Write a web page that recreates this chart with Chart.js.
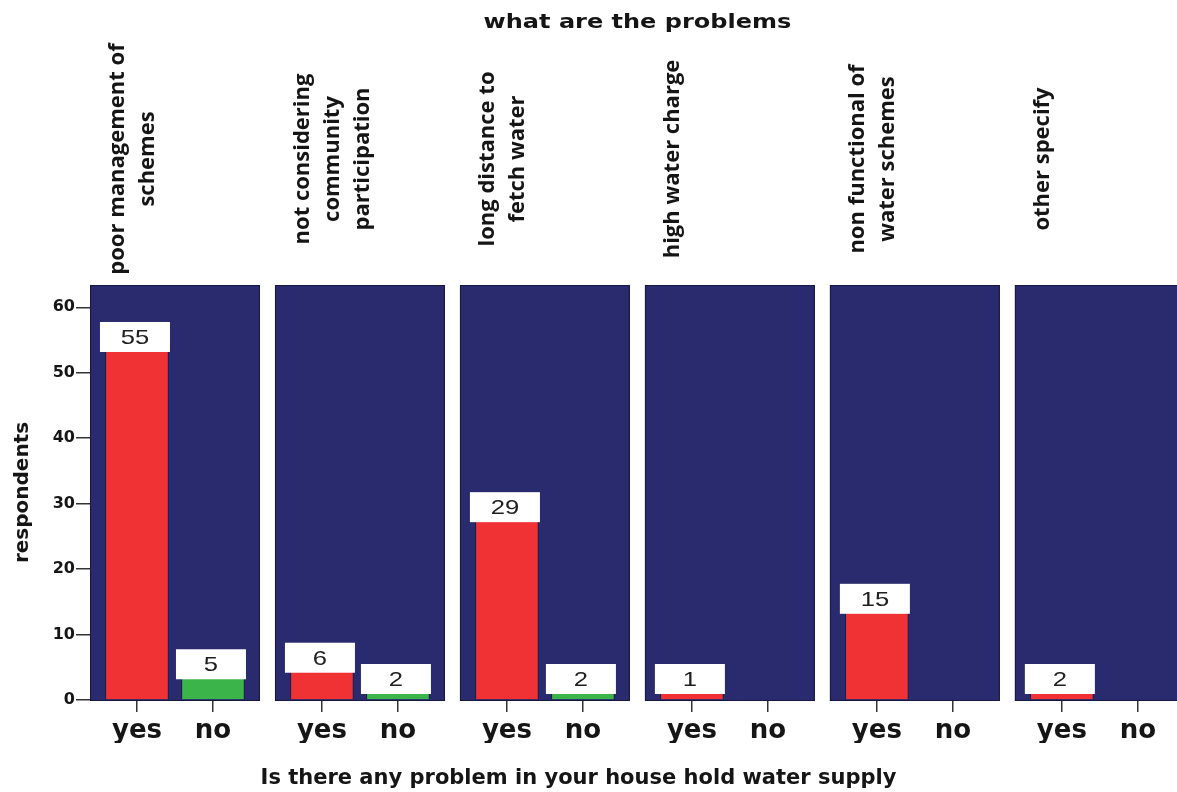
<!DOCTYPE html>
<html><head><meta charset="utf-8">
<script src="https://cdn.jsdelivr.net/npm/chart.js@4/dist/chart.umd.min.js"></script>
<style>html,body{margin:0;padding:0;background:#fff;}canvas{display:block;}</style>
</head><body>
<canvas id="c" width="1177" height="792"></canvas>
<script>
// ---- data ----
const chartTitle = 'what are the problems';
const xTitle = 'Is there any problem in your house hold water supply';
const yTitle = 'respondents';
const problems = [
  ['poor management of', 'schemes'],
  ['not considering', 'community', 'participation'],
  ['long distance to', 'fetch water'],
  ['high water charge'],
  ['non functional of', 'water schemes'],
  ['other specify']
];
const answers = ['yes', 'no'];
const yesCounts = [55, 6, 29, 1, 15, 2];
const noCounts = [5, 2, 2, null, null, null];
const yTicks = [0, 10, 20, 30, 40, 50, 60];

// ---- layout / style ----
const PANEL_STEP = 2.434;   // x units from one panel to the next
const PANEL_PAD = 0.618;    // panel extent beyond yes / no positions
const NAVY = '#2a2a6e';
const RED = '#f03235';
const GREEN = '#3bb44a';
const INK = '#151515';

const yesData = yesCounts.map((v, p) => ({x: p * PANEL_STEP, y: v}));
const noData = noCounts.map((v, p) => ({x: p * PANEL_STEP + 1, y: v}));
const tickPositions = [];
problems.forEach((_, p) => answers.forEach((a, i) => tickPositions.push(p * PANEL_STEP + i)));

const panelPlugin = {
  id: 'panels',
  beforeDatasetsDraw(chart) {
    const {ctx, chartArea, scales: {x, y}} = chart;
    ctx.save();
    ctx.beginPath();
    ctx.rect(chartArea.left, 0, chartArea.right - chartArea.left, chart.height);
    ctx.clip();
    const bottom = y.getPixelForValue(0) + 1;
    problems.forEach((_, p) => {
      const l = x.getPixelForValue(p * PANEL_STEP - PANEL_PAD);
      const r = x.getPixelForValue(p * PANEL_STEP + 1 + PANEL_PAD);
      ctx.fillStyle = NAVY;
      ctx.fillRect(l, chartArea.top, r - l, bottom - chartArea.top);
      ctx.strokeStyle = '#17173d';
      ctx.lineWidth = 1;
      ctx.strokeRect(l + 0.5, chartArea.top + 0.5, r - l - 1, bottom - chartArea.top - 1);
    });
    ctx.restore();
  },
  afterDatasetsDraw(chart) {
    const {ctx, scales: {y}} = chart;
    const axis = y.getPixelForValue(0);
    ctx.save();
    chart.data.datasets.forEach((ds, di) => {
      const meta = chart.getDatasetMeta(di);
      meta.data.forEach((el, i) => {
        const v = ds.data[i].y;
        if (v === null || v === undefined) return;
        const vp = y.getPixelForValue(v);
        const h = 30, w = el.width + 7;
        const bottom = Math.min(vp + 12, axis - 6);
        const top = bottom - h;
        const left = el.x - w / 2 - 2;
        ctx.fillStyle = '#ffffff';
        ctx.fillRect(left, top, w, h);
        ctx.save();
        ctx.translate(left + w / 2, top + h / 2 + 1);
        ctx.scale(1.22, 1);
        ctx.fillStyle = '#202020';
        ctx.font = '21px "Liberation Sans", Arial, sans-serif';
        ctx.textAlign = 'center';
        ctx.textBaseline = 'middle';
        ctx.fillText(String(v), 0, 0);
        ctx.restore();
      });
    });
    ctx.restore();
  },
  afterDraw(chart) {
    const {ctx, scales: {x}} = chart;
    ctx.save();
    ctx.fillStyle = INK;
    // panel headers (rotated)
    ctx.font = 'bold 22px "Open Sans", Lato, sans-serif';
    ctx.textAlign = 'center';
    ctx.textBaseline = 'middle';
    problems.forEach((lines, p) => {
      const l = x.getPixelForValue(p * PANEL_STEP - PANEL_PAD);
      lines.forEach((line, j) => {
        ctx.save();
        ctx.translate(l + 28 + j * 30, 159);
        ctx.rotate(-Math.PI / 2);
        ctx.fillText(line, 0, 0);
        ctx.restore();
      });
    });
    // top title
    const firstL = x.getPixelForValue(-PANEL_PAD);
    const lastR = x.getPixelForValue((problems.length - 1) * PANEL_STEP + 1 + PANEL_PAD);
    ctx.save();
    ctx.translate((firstL + lastR) / 2, 28);
    ctx.scale(1.2, 1);
    ctx.font = 'bold 20px "DejaVu Sans", sans-serif';
    ctx.textBaseline = 'alphabetic';
    ctx.fillText(chartTitle, 0, 0);
    ctx.restore();
    // bottom title
    ctx.font = 'bold 21px "DejaVu Sans", sans-serif';
    ctx.textBaseline = 'alphabetic';
    ctx.fillText(xTitle, chart.width / 2 - 10, 784);
    ctx.restore();
  }
};

new Chart(document.getElementById('c'), {
  type: 'bar',
  data: {
    datasets: [
      {label: answers[0], data: yesData, backgroundColor: RED, borderColor: 'rgba(25,25,60,0.85)', borderWidth: 1, barThickness: 63, grouped: false},
      {label: answers[1], data: noData, backgroundColor: GREEN, borderColor: 'rgba(25,25,60,0.85)', borderWidth: 1, barThickness: 63, grouped: false}
    ]
  },
  options: {
    responsive: false,
    animation: false,
    layout: {padding: {top: 285, bottom: 49, left: 0, right: 0}},
    plugins: {legend: {display: false}, tooltip: {enabled: false}, title: {display: false}},
    scales: {
      x: {
        type: 'linear',
        offset: false,
        min: -PANEL_PAD,
        max: -PANEL_PAD + 14.303,
        afterBuildTicks: (s) => { s.ticks = tickPositions.map(v => ({value: v})); },
        afterFit: (s) => { s.height = 43; },
        ticks: {
          autoSkip: false, maxRotation: 0, padding: 4, color: INK,
          font: {family: '"DejaVu Sans", sans-serif', size: 26, weight: 'bold'},
          callback: (v, i) => answers[i % answers.length]
        },
        grid: {offset: false, drawOnChartArea: false, drawTicks: true, tickLength: 12, color: '#333', lineWidth: 1.5},
        border: {display: false}
      },
      y: {
        min: 0,
        max: 63.4,
        afterBuildTicks: (s) => { s.ticks = yTicks.map(v => ({value: v})); },
        afterFit: (s) => { s.width = 90; },
        ticks: {padding: 1, color: INK, font: {family: '"DejaVu Sans", sans-serif', size: 16, weight: 'bold'}},
        grid: {drawOnChartArea: false, drawTicks: true, tickLength: 14, color: '#333', lineWidth: 1.5},
        border: {display: false},
        title: {display: true, text: yTitle, color: INK, padding: {top: 11, bottom: 0},
          font: {family: '"DejaVu Sans", sans-serif', size: 20, weight: 'bold'}}
      }
    }
  },
  plugins: [panelPlugin]
});
</script>
</body></html>
